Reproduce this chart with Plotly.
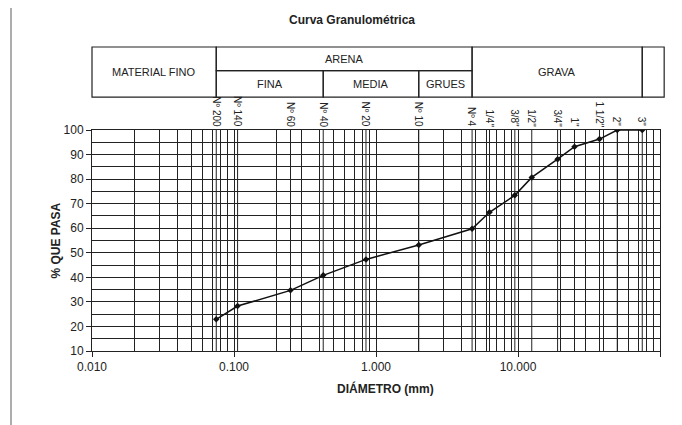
import plotly.graph_objects as go
import math

# ---- data ----
sieve_mm = [0.075, 0.106, 0.25, 0.425, 0.85, 2.0, 4.75, 6.3, 9.5, 12.5, 19.0, 25.0, 37.5, 50.0, 75.0]
pct_pasa = [22.9, 28.3, 34.7, 40.8, 47.3, 53.2, 59.8, 66.5, 73.4, 80.7, 88.1, 93.2, 96.3, 100.0, 100.0]
sieve_names = ["Nº 200", "Nº 140", "Nº 60", "Nº 40", "Nº 20", "Nº 10", "Nº 4",
               '1/4"', '3/8"', '1/2"', '3/4"', '1"', '1 1/2"', '2"', '3"']
x_tickvals = [0.01, 0.1, 1, 10, 100]
x_ticktext = ["0.010", "0.100", "1.000", "10.000", "100.000"]
y_tickvals = [10, 20, 30, 40, 50, 60, 70, 80, 90, 100]
# soil classification boundaries (mm)
class_bounds = [0.01, 0.075, 0.425, 2.0, 4.75, 75.0, 107.0]

FONT = "Liberation Sans, Arial, sans-serif"
GRID = "#222"
XMIN_LOG, XMAX_LOG = -2, 2

minor_vals = [m * d for d in [0.01, 0.1, 1, 10] for m in range(2, 10)]

def xp(d):
    """x data value (mm) -> paper fraction on the log axis"""
    return (math.log10(d) - XMIN_LOG) / (XMAX_LOG - XMIN_LOG)

fig = go.Figure()
fig.add_trace(go.Scatter(
    x=sieve_mm, y=pct_pasa, mode="lines+markers",
    line=dict(color="#111", width=1.5),
    marker=dict(symbol="diamond", size=5, color="#111"),
    showlegend=False, hoverinfo="x+y",
))

# sieve vertical lines
for s in sieve_mm:
    fig.add_shape(type="line", xref="x", yref="y", x0=s, x1=s, y0=10, y1=100,
                  line=dict(color=GRID, width=1), layer="below")

# sieve labels on top
for s, n in zip(sieve_mm, sieve_names):
    fig.add_annotation(x=math.log10(s), y=1.0, xref="x", yref="paper",
                       text=n, textangle=90, showarrow=False,
                       xanchor="center", yanchor="bottom", yshift=1,
                       font=dict(family=FONT, size=10, color="#222"))

# classification table
ytop, ymid, ybot = 1.3756, 1.269, 1.149
box = dict(color="#222", width=1.2)
b = class_bounds

def rect(x0, x1, y0, y1):
    fig.add_shape(type="rect", xref="paper", yref="paper",
                  x0=xp(x0), x1=xp(x1), y0=y0, y1=y1, line=box)

rect(b[0], b[1], ybot, ytop)   # MATERIAL FINO
rect(b[1], b[4], ymid, ytop)   # ARENA
rect(b[1], b[2], ybot, ymid)   # FINA
rect(b[2], b[3], ybot, ymid)   # MEDIA
rect(b[3], b[4], ybot, ymid)   # GRUES
rect(b[4], b[5], ybot, ytop)   # GRAVA
rect(b[5], b[6], ybot, ytop)   # end box

def lbl(x0, x1, y, t):
    fig.add_annotation(x=(xp(x0) + xp(x1)) / 2, y=y, xref="paper", yref="paper",
                       text=t, showarrow=False, xanchor="center", yanchor="middle",
                       font=dict(family=FONT, size=11, color="#222"))

lbl(b[0], b[1], (ybot + ytop) / 2, "MATERIAL FINO")
lbl(b[1], b[4], (ymid + ytop) / 2, "ARENA")
lbl(b[1], b[2], (ybot + ymid) / 2, "FINA")
lbl(b[2], b[3], (ybot + ymid) / 2, "MEDIA")
lbl(b[3], b[4], (ybot + ymid) / 2, "GRUES")
lbl(b[4], b[5], (ybot + ytop) / 2, "GRAVA")

# title
fig.add_annotation(x=0.458, y=1.498, xref="paper", yref="paper", text="<b>Curva Granulométrica</b>",
                   showarrow=False, xanchor="center", yanchor="middle",
                   font=dict(family=FONT, size=12, color="#222"))
# axis titles
fig.add_annotation(x=-0.065, y=0.5, xref="paper", yref="paper", text="<b>% QUE PASA</b>",
                   textangle=-90, showarrow=False, xanchor="center", yanchor="middle",
                   font=dict(family=FONT, size=12, color="#222"))
fig.add_annotation(x=0.516, y=-0.17, xref="paper", yref="paper", text="<b>DIÁMETRO (mm)</b>",
                   showarrow=False, xanchor="center", yanchor="middle",
                   font=dict(family=FONT, size=12, color="#222"))

# outer frame
fig.add_shape(type="rect", xref="paper", yref="paper",
              x0=(11 - 92) / 568, x1=1.2, y0=-0.5, y1=(351 - 5) / 221,
              line=dict(color="#777", width=1.2))

fig.update_xaxes(
    type="log", range=[XMIN_LOG, XMAX_LOG],
    tickmode="array", tickvals=x_tickvals, ticktext=x_ticktext,
    showgrid=True, gridcolor=GRID, gridwidth=1,
    minor=dict(tickmode="array", tickvals=minor_vals, showgrid=True, gridcolor=GRID, gridwidth=1, ticks=""),
    ticks="outside", ticklen=5, tickcolor="#222",
    showline=True, linecolor="#222", linewidth=1, mirror=True,
    tickfont=dict(family=FONT, size=12, color="#222"),
    zeroline=False,
)
fig.update_yaxes(
    range=[10, 100],
    tickmode="array", tickvals=y_tickvals,
    showgrid=True, gridcolor=GRID, gridwidth=1,
    minor=dict(dtick=5, showgrid=True, gridcolor=GRID, gridwidth=1, ticks=""),
    ticks="outside", ticklen=5, tickcolor="#222",
    showline=True, linecolor="#222", linewidth=1, mirror=True,
    tickfont=dict(family=FONT, size=12, color="#222"),
    zeroline=False,
)

fig.update_layout(
    width=674, height=417,
    margin=dict(l=84, r=22, t=122, b=74),
    paper_bgcolor="white", plot_bgcolor="white",
    font=dict(family=FONT, color="#222"),
    showlegend=False,
)

fig.write_html("out.html")
